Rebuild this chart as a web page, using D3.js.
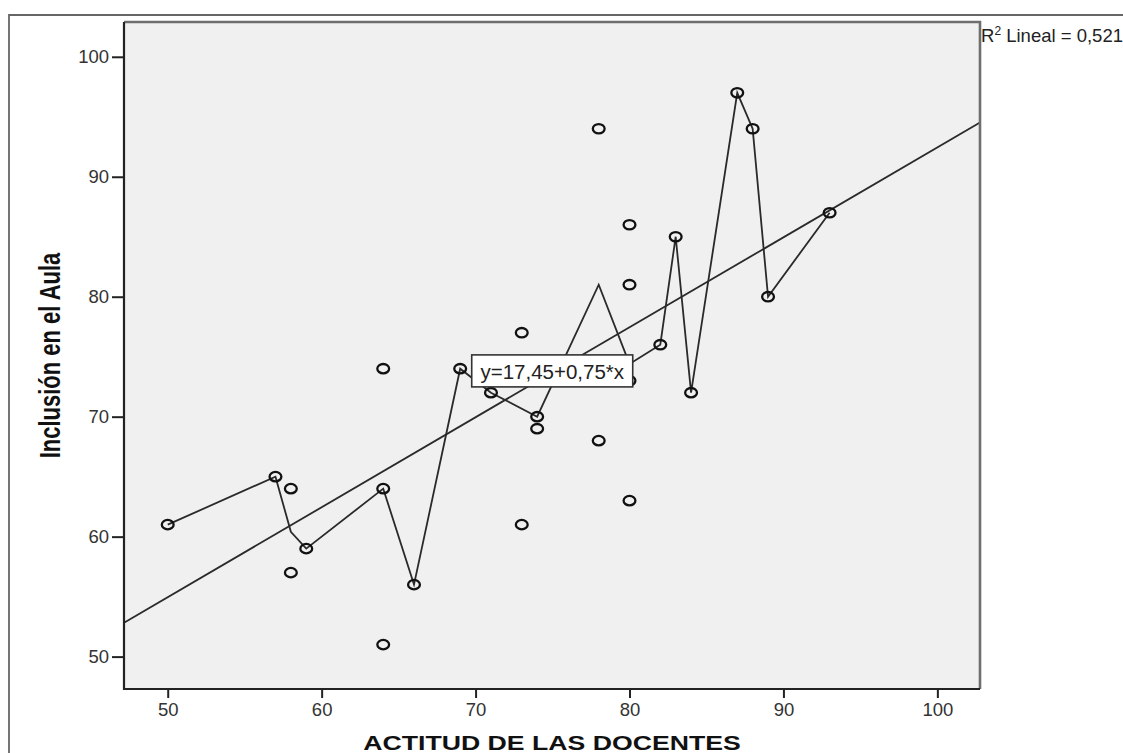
<!DOCTYPE html>
<html>
<head>
<meta charset="utf-8">
<script src="https://cdn.jsdelivr.net/npm/d3@7"></script>
<style>
  html, body { margin: 0; padding: 0; background: #fff; }
  svg { display: block; }
  text { font-family: "Liberation Sans", Arial, sans-serif; }
</style>
</head>
<body>
<svg id="chart" width="1123" height="753"></svg>
<script>
// ---- data ----
const pointsX = [50,57,58,58,59,64,64,64,66,69,71,73,73,74,74,78,78,80,80,80,80,82,83,84,87,88,89,93];
const pointsY = [61,65,64,57,59,74,64,51,56,74,72,77,61,70,69,94,68,86,81,73,63,76,85,72,97,94,80,87];

// interpolation line vertices
const lineX = [50,57,58,59,64,66,69,71,74,78,80,82,83,84,87,88,89,93];
const lineY = [61,65,60.4,59,64,56,74,72,70,81,74.4,76,85,72,97,94,80,87];

// linear fit
const fitIntercept = 17.45;
const fitSlope = 0.75;
const fitLabel = "y=17,45+0,75*x";
const r2Label = "0,521";

const xTicks = [50,60,70,80,90,100];
const yTicks = [50,60,70,80,90,100];
const xTitle = "ACTITUD DE LAS DOCENTES";
const yTitle = "Inclusión en el Aula";

// ---- layout ----
const plot = {left: 124, right: 980, top: 22, bottom: 689};
const x = d3.scaleLinear().domain([47.16, 102.77]).range([plot.left, plot.right]);
const y = d3.scaleLinear().domain([47.3, 102.9]).range([plot.bottom, plot.top]);

const svg = d3.select("#chart");

// outer frame
svg.append("path")
  .attr("d", "M9,753 L9,15 L1123,15")
  .attr("fill", "none").attr("stroke", "#666").attr("stroke-width", 1.8);

// plot background
svg.append("rect")
  .attr("x", plot.left).attr("y", plot.top)
  .attr("width", plot.right - plot.left).attr("height", plot.bottom - plot.top)
  .attr("fill", "#f0f0f0");

svg.append("clipPath").attr("id", "clip").append("rect")
  .attr("x", plot.left).attr("y", plot.top)
  .attr("width", plot.right - plot.left).attr("height", plot.bottom - plot.top);

const g = svg.append("g").attr("clip-path", "url(#clip)");

// regression line
const xd = x.domain();
g.append("line")
  .attr("x1", x(xd[0])).attr("y1", y(fitIntercept + fitSlope * xd[0]))
  .attr("x2", x(xd[1])).attr("y2", y(fitIntercept + fitSlope * xd[1]))
  .attr("stroke", "#2a2a2a").attr("stroke-width", 1.8);

// interpolation line
const lineData = lineX.map((v, i) => [v, lineY[i]]);
g.append("path")
  .datum(lineData)
  .attr("d", d3.line().x(d => x(d[0])).y(d => y(d[1])))
  .attr("fill", "none").attr("stroke", "#2a2a2a").attr("stroke-width", 1.8)
  .attr("stroke-linejoin", "miter");

// points
const pts = pointsX.map((v, i) => [v, pointsY[i]]);
g.selectAll("ellipse.pt").data(pts).join("ellipse")
  .attr("class", "pt")
  .attr("cx", d => x(d[0])).attr("cy", d => y(d[1]))
  .attr("rx", 5.9).attr("ry", 4.7)
  .attr("fill", "none").attr("stroke", "#111").attr("stroke-width", 2.3);

// plot frame: top/right gray, left/bottom dark
svg.append("path")
  .attr("d", `M${plot.left},${plot.top} L${plot.right},${plot.top} L${plot.right},${plot.bottom}`)
  .attr("fill", "none").attr("stroke", "#6e6e6e").attr("stroke-width", 2.6);
svg.append("path")
  .attr("d", `M${plot.left},${plot.top} L${plot.left},${plot.bottom} L${plot.right},${plot.bottom}`)
  .attr("fill", "none").attr("stroke", "#222").attr("stroke-width", 2.2);

// x axis
const xAxis = svg.append("g")
  .attr("transform", `translate(0,${plot.bottom})`)
  .call(d3.axisBottom(x).tickValues(xTicks).tickSize(9).tickPadding(5).tickFormat(d3.format("d")));
xAxis.select(".domain").remove();
xAxis.selectAll(".tick line").attr("stroke", "#222").attr("stroke-width", 2);
xAxis.selectAll(".tick text")
  .attr("fill", "#333").style("font-size", "18.5px")
  .style("font-family", '"Liberation Sans", Arial, sans-serif');

// y axis
const yAxis = svg.append("g")
  .attr("transform", `translate(${plot.left},0)`)
  .call(d3.axisLeft(y).tickValues(yTicks).tickSize(12).tickPadding(3).tickFormat(d3.format("d")));
yAxis.select(".domain").remove();
yAxis.selectAll(".tick line").attr("stroke", "#222").attr("stroke-width", 2);
yAxis.selectAll(".tick text")
  .attr("fill", "#333").style("font-size", "18.5px")
  .style("font-family", '"Liberation Sans", Arial, sans-serif');

// axis titles
svg.append("text")
  .attr("transform", `translate(${(plot.left + plot.right) / 2},750) scale(1.3,1)`)
  .attr("text-anchor", "middle")
  .style("font-size", "20.5px").style("font-weight", "bold").attr("fill", "#111")
  .text(xTitle);

svg.append("text")
  .attr("transform", `translate(60,${(plot.top + plot.bottom) / 2}) rotate(-90) scale(1,1.3)`)
  .attr("text-anchor", "middle")
  .style("font-size", "22px").style("font-weight", "bold").attr("fill", "#111")
  .text(yTitle);

// fit equation label
const labelAnchor = [69.75, 75.15];
const lbl = svg.append("g").attr("transform", `translate(${x(labelAnchor[0])},${y(labelAnchor[1])})`);
lbl.append("rect")
  .attr("x", 0).attr("y", 0).attr("width", 161).attr("height", 32)
  .attr("fill", "#fff").attr("stroke", "#333").attr("stroke-width", 1.6);
lbl.append("text")
  .attr("x", 80.5).attr("y", 24).attr("text-anchor", "middle")
  .style("font-size", "20.5px").attr("fill", "#222")
  .text(fitLabel);

// R² label
const r2 = svg.append("text")
  .attr("x", plot.right + 1).attr("y", 42)
  .style("font-size", "18.5px").attr("fill", "#222");
r2.append("tspan").text("R");
r2.append("tspan").attr("dy", -7).style("font-size", "12px").text("2");
r2.append("tspan").attr("dy", 7).text(" Lineal = " + r2Label);
</script>
</body>
</html>
